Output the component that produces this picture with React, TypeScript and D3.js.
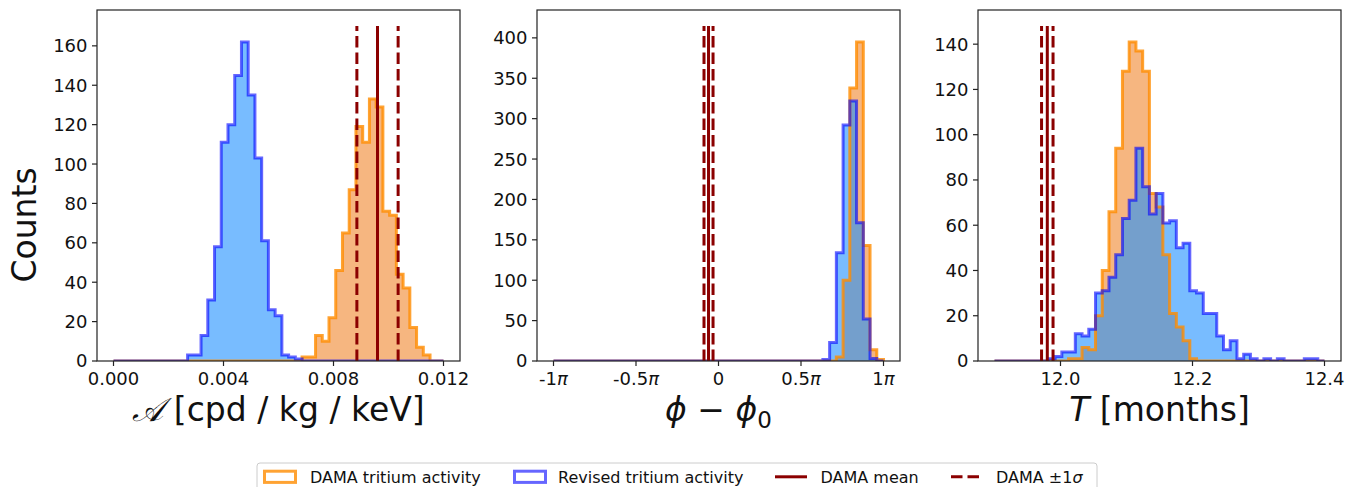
import React from 'react';
import * as d3 from 'd3';

// ---------------- data ----------------
const N_BINS = 49;

// Panel 1: amplitude [cpd/kg/keV]
const A_RANGE = [0, 0.012];
const A_DAMA = [
  0, 0, 0, 0, 0, 0, 0, 0, 0, 0, 0, 0, 0, 0, 0, 0, 0, 0, 0, 0, 0, 0, 0, 0, 0, 0, 0, 0,
  2, 2, 13, 10, 22, 46, 65, 87, 119, 111, 133, 129, 76, 74, 44, 37, 17, 7, 3, 0, 0,
];
const A_REV = [
  0, 0, 0, 0, 0, 0, 0, 0, 0, 0, 0,
  3, 3, 13, 31, 58, 111, 120, 145, 162, 135, 103, 61, 26, 23, 3, 2, 1,
  0, 0, 0, 0, 0, 0, 0, 0, 0, 0, 0, 0, 0, 0, 0, 0, 0, 0, 0, 0, 0,
];
const A_DAMA_MEAN = 0.0096;
const A_DAMA_SIGMA = 0.00075;
const A_XTICKS = [0, 0.004, 0.008, 0.012];
const A_XTICK_LABELS = ['0.000', '0.004', '0.008', '0.012'];
const A_YTICKS = [0, 20, 40, 60, 80, 100, 120, 140, 160];

// Panel 2: phase phi - phi0 [rad]
const P_RANGE = [-Math.PI, Math.PI];
const P_DAMA = [
  0, 0, 0, 0, 0, 0, 0, 0, 0, 0, 0, 0, 0, 0, 0, 0, 0, 0, 0, 0, 0,
  0, 0, 0, 0, 0, 0, 0, 0, 0, 0, 0, 0, 0, 0, 0, 0, 0, 0, 0, 0, 0,
  5, 100, 338, 395, 143, 14, 2,
];
const P_REV = [
  0, 0, 0, 0, 0, 0, 0, 0, 0, 0, 0, 0, 0, 0, 0, 0, 0, 0, 0, 0,
  0, 0, 0, 0, 0, 0, 0, 0, 0, 0, 0, 0, 0, 0, 0, 0, 0, 0, 0, 0,
  2, 23, 134, 292, 322, 171, 52, 3, 0,
];
const P_DAMA_MEAN = -0.19;
const P_DAMA_SIGMA = 0.086;
const P_XTICKS = [-Math.PI, -Math.PI / 2, 0, Math.PI / 2, Math.PI];
const P_XTICK_LABELS = [['-1', 'π'], ['-0.5', 'π'], ['0', ''], ['0.5', 'π'], ['1', 'π']];
const P_YTICKS = [0, 50, 100, 150, 200, 250, 300, 350, 400];

// Panel 3: period T [months]
const T_RANGE = [11.9, 12.4];
const T_DAMA = [
  0, 0, 0, 0, 0, 0, 0, 0, 0, 0, 0,
  1, 1, 6, 5, 20, 40, 66, 94, 128, 141, 137, 128, 74, 68, 47, 21, 15, 9, 1,
  0, 0, 0, 0, 0, 0, 0, 0, 0, 0, 0, 0, 0, 0, 0, 0, 0, 0, 0,
];
const T_REV = [
  0, 0, 0, 0, 0, 0, 0, 0,
  1, 2, 4, 4, 12, 11, 14, 30, 31, 37, 47, 63, 71, 94, 77, 65, 74, 61, 62, 50, 52, 31, 30,
  21, 21, 11, 5, 9, 1, 3, 1, 0, 1, 0, 1, 0, 0, 0, 1, 1, 0,
];
const T_DAMA_MEAN = 11.98;
const T_DAMA_SIGMA = 0.0087;
const T_XTICKS = [12.0, 12.2, 12.4];
const T_XTICK_LABELS = ['12.0', '12.2', '12.4'];
const T_YTICKS = [0, 20, 40, 60, 80, 100, 120, 140];

const LEGEND_LABELS = ['DAMA tritium activity', 'Revised tritium activity', 'DAMA mean'];

// ---------------- style ----------------
const FONT = 'DejaVu Sans, Verdana, sans-serif';
const ORANGE_FILL = 'rgba(244,164,96,0.8)';
const BLUE_FILL = 'rgba(30,144,255,0.6)';
const ORANGE_EDGE = 'rgba(255,140,0,0.8)';
const BLUE_EDGE = 'rgba(0,0,255,0.6)';
const DARKRED = '#8b0000';
const EDGE_W = 3;
const DASH = '11.5,5';

const TOP = 10;
const BOTTOM = 361;
const PW = 363;

function edgesFor(range: number[]) {
  const [lo, hi] = range;
  return d3.range(N_BINS + 1).map((i) => lo + ((hi - lo) * i) / N_BINS);
}

function stepPoints(edges: number[], counts: number[]): [number, number][] {
  const pts: [number, number][] = [[edges[0], 0]];
  counts.forEach((c, i) => {
    pts.push([edges[i], c]);
    pts.push([edges[i + 1], c]);
  });
  pts.push([edges[edges.length - 1], 0]);
  return pts;
}

type PanelProps = {
  id: string;
  left: number;
  range: number[];
  dama: number[];
  rev: number[];
  mean: number;
  sigma: number;
  xticks: number[];
  xlabels: React.ReactNode[];
  yticks: number[];
  xlabel: React.ReactNode;
};

function Panel(p: PanelProps) {
  const [lo, hi] = p.range;
  const m = (hi - lo) * 0.05;
  const x = d3.scaleLinear().domain([lo - m, hi + m]).range([p.left, p.left + PW]);
  const ymax = Math.max(d3.max(p.dama) as number, d3.max(p.rev) as number);
  const y = d3.scaleLinear().domain([0, ymax * 1.1]).range([BOTTOM, TOP]);
  const edges = edgesFor(p.range);
  const line = d3
    .line<[number, number]>()
    .x((d) => x(d[0]))
    .y((d) => y(d[1]));
  const dPts = stepPoints(edges, p.dama);
  const rPts = stepPoints(edges, p.rev);
  const vTop = y(ymax * 1.05);
  const vlines = [
    { v: p.mean - p.sigma, dash: DASH },
    { v: p.mean + p.sigma, dash: DASH },
    { v: p.mean, dash: undefined },
  ];
  return (
    <g>
      <defs>
        <clipPath id={p.id}>
          <rect x={p.left} y={TOP} width={PW} height={BOTTOM - TOP} />
        </clipPath>
      </defs>
      <g clipPath={`url(#${p.id})`}>
        <path d={(line(dPts) as string) + 'Z'} fill={ORANGE_FILL} stroke="none" />
        <path d={(line(rPts) as string) + 'Z'} fill={BLUE_FILL} stroke="none" />
        <path d={line(dPts) as string} fill="none" stroke={ORANGE_EDGE} strokeWidth={EDGE_W} strokeLinejoin="miter" />
        <path d={line(rPts) as string} fill="none" stroke={BLUE_EDGE} strokeWidth={EDGE_W} strokeLinejoin="miter" />
        {vlines.map((l, i) => (
          <line
            key={i}
            x1={x(l.v)}
            x2={x(l.v)}
            y1={y(0)}
            y2={vTop}
            stroke={DARKRED}
            strokeWidth={3}
            strokeDasharray={l.dash}
          />
        ))}
      </g>
      <rect x={p.left} y={TOP} width={PW} height={BOTTOM - TOP} fill="none" stroke="#222" strokeWidth={1.2} />
      {p.yticks.map((t) => (
        <g key={'y' + t}>
          <line x1={p.left - 5} x2={p.left} y1={y(t)} y2={y(t)} stroke="#222" strokeWidth={1.2} />
          <text
            x={p.left - 9.5}
            y={y(t)}
            dy="0.36em"
            textAnchor="end"
            fontFamily={FONT}
            fontSize={18}
            fill="#111"
          >
            {t}
          </text>
        </g>
      ))}
      {p.xticks.map((t, i) => (
        <g key={'x' + i}>
          <line x1={x(t)} x2={x(t)} y1={BOTTOM} y2={BOTTOM + 5} stroke="#222" strokeWidth={1.2} />
          <text x={x(t)} y={385} textAnchor="middle" fontFamily={FONT} fontSize={18} fill="#111">
            {p.xlabels[i]}
          </text>
        </g>
      ))}
      <text
        x={p.left + PW / 2}
        y={421}
        textAnchor="middle"
        fontFamily={FONT}
        fontSize={33}
        fill="#111"
      >
        {p.xlabel}
      </text>
    </g>
  );
}

function Legend() {
  const top = 463;
  const ty = 483;
  const hy = 476.8;
  return (
    <g fontFamily={FONT} fontSize={16} fill="#111">
      <rect x={257} y={top} width={840} height={40} rx={3} fill="rgba(255,255,255,0.8)" stroke="#cccccc" strokeWidth={1} />
      <rect x={264.5} y={hy - 5.6} width={31} height={11.2} fill="white" stroke={ORANGE_EDGE} strokeWidth={EDGE_W} />
      <text x={310}>
        <tspan y={ty}>{LEGEND_LABELS[0]}</tspan>
      </text>
      <rect x={514.5} y={hy - 5.6} width={31} height={11.2} fill="white" stroke={BLUE_EDGE} strokeWidth={EDGE_W} />
      <text x={558}>
        <tspan y={ty}>{LEGEND_LABELS[1]}</tspan>
      </text>
      <line x1={775} x2={807} y1={hy} y2={hy} stroke={DARKRED} strokeWidth={3} />
      <text x={820.5}>
        <tspan y={ty}>{LEGEND_LABELS[2]}</tspan>
      </text>
      <line x1={951} x2={983} y1={hy} y2={hy} stroke={DARKRED} strokeWidth={3} strokeDasharray={DASH} />
      <text x={996} y={ty}>
        DAMA ±1<tspan fontStyle="italic">σ</tspan>
      </text>
    </g>
  );
}

export default function App() {
  const piLabel = (l: string[]) => (
    <>
      {l[0]}
      {l[1] ? <tspan fontStyle="italic">{l[1]}</tspan> : null}
    </>
  );
  return (
    <svg
      width={1359}
      height={487}
      viewBox="0 0 1359 487"
      style={{ position: 'absolute', left: 0, top: 0, background: 'white' }}
    >
      <rect width={1359} height={487} fill="white" />
      <Panel
        id="clipA"
        left={97}
        range={A_RANGE}
        dama={A_DAMA}
        rev={A_REV}
        mean={A_DAMA_MEAN}
        sigma={A_DAMA_SIGMA}
        xticks={A_XTICKS}
        xlabels={A_XTICK_LABELS}
        yticks={A_YTICKS}
        xlabel={
          <>
            <tspan fontFamily="DejaVu Serif, serif" fontStyle="italic">𝒜</tspan> [cpd / kg / keV]
          </>
        }
      />
      <Panel
        id="clipP"
        left={537}
        range={P_RANGE}
        dama={P_DAMA}
        rev={P_REV}
        mean={P_DAMA_MEAN}
        sigma={P_DAMA_SIGMA}
        xticks={P_XTICKS}
        xlabels={P_XTICK_LABELS.map(piLabel)}
        yticks={P_YTICKS}
        xlabel={
          <>
            <tspan fontStyle="italic">ϕ</tspan> − <tspan fontStyle="italic">ϕ</tspan>
            <tspan fontSize={23} dy={7}>0</tspan>
          </>
        }
      />
      <Panel
        id="clipT"
        left={978}
        range={T_RANGE}
        dama={T_DAMA}
        rev={T_REV}
        mean={T_DAMA_MEAN}
        sigma={T_DAMA_SIGMA}
        xticks={T_XTICKS}
        xlabels={T_XTICK_LABELS}
        yticks={T_YTICKS}
        xlabel={
          <>
            <tspan fontStyle="italic">T</tspan> [months]
          </>
        }
      />
      <text
        transform="translate(36,225) rotate(-90)"
        textAnchor="middle"
        fontFamily={FONT}
        fontSize={33}
        fill="#111"
      >
        Counts
      </text>
      <Legend />
    </svg>
  );
}
